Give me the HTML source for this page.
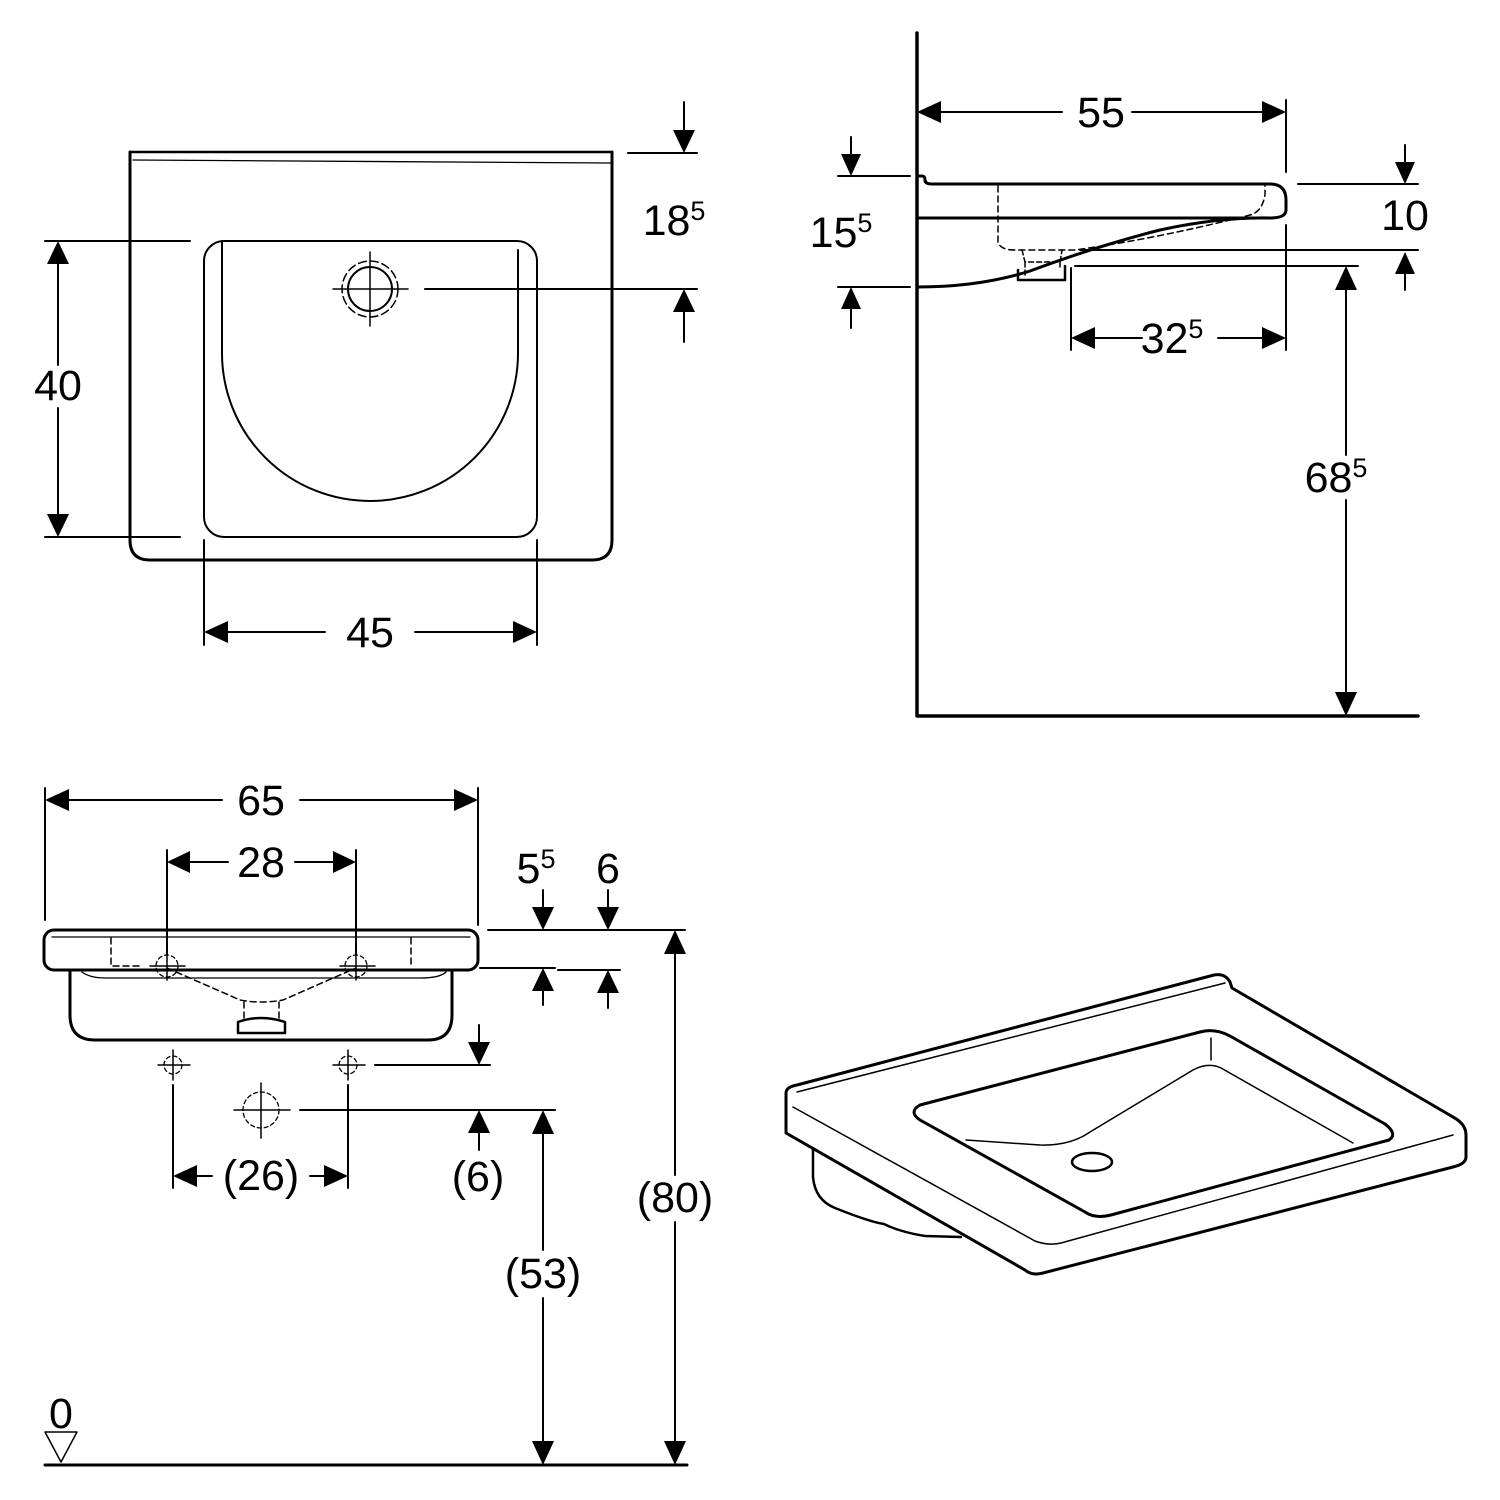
<!DOCTYPE html>
<html><head><meta charset="utf-8"><style>
html,body{margin:0;padding:0;background:#fff}
svg{display:block}
text{font-family:"Liberation Sans",sans-serif;font-size:43px;fill:#000}
.sup{font-size:27px}
</style></head><body>
<svg width="1500" height="1500" viewBox="0 0 1500 1500" xmlns="http://www.w3.org/2000/svg">
<g fill="none" stroke="#000" stroke-linejoin="round" stroke-linecap="round">
<path d="M130,152 V540 Q130,560 150,560 H592 Q612,560 612,540 V152" stroke-width="3"/>
<path d="M130,152 H612" stroke-width="2.5"/>
<path d="M133,160 L612,163" stroke-width="1.3"/>
<rect x="204" y="241" width="333" height="296" rx="20" stroke-width="2"/>
<path d="M222,241 V353 A148,148 0 0 0 518,353 V250" stroke-width="2"/>
<circle cx="370" cy="289" r="22" stroke-width="2"/>
<circle cx="370" cy="289" r="28" stroke-width="1.5" stroke-dasharray="8 4"/>
<path d="M333,289 H408 M370,252 V326" stroke-width="1.5"/>
<path d="M45,241 H190 M45,537 H180 M58,262 V365 M58,408 V516" stroke-width="2"/>
<path d="M204,540 V645 M537,540 V645 M225,632 H325 M415,632 H516" stroke-width="2"/>
<path d="M628,153 H697 M425,289 H697 M684,102 V132 M684,310 V342" stroke-width="2"/>

<path d="M917,33 V716 H1418" stroke-width="3.5"/>
<path d="M917,176 H922 Q925,176 925,180 Q925,184 932,184 H1270 Q1286,184 1286,200 V210 Q1286,218 1270,218 H917" stroke-width="3"/>
<path d="M917,287 Q980,287 1030,271 Q1100,245 1160,230 Q1220,217 1270,218" stroke-width="3"/>
<path d="M1018,270 V280 H1065 V266" stroke-width="2.5"/>
<path d="M998,186 V242 Q1000,250 1015,250 H1075 Q1160,238 1250,215 Q1262,212 1265,195 V184" stroke-width="1.5" stroke-dasharray="6 4"/>
<path d="M1022,250 L1025,262 H1060 L1062,250 M1025,262 V278 M1060,262 V270" stroke-width="1.5" stroke-dasharray="5 3"/>
<path d="M1286,100 V172 M940,112 H1062 M1132,112 H1264" stroke-width="2"/>
<path d="M838,176 H910 M838,287 H910 M851,137 V156 M851,307 V328" stroke-width="2"/>
<path d="M1298,184 H1418 M1080,250 H1418 M1405,145 V164 M1405,272 V290" stroke-width="2"/>
<path d="M1071,268 V350 M1286,225 V350 M1092,338 H1142 M1218,338 H1264" stroke-width="2"/>
<path d="M1075,266 H1358 M1346,288 V455 M1346,500 V694" stroke-width="2"/>

<rect x="44" y="930" width="434" height="40" rx="10" stroke-width="3"/>
<path d="M52,937 H470" stroke-width="1.3"/>
<path d="M70,970 V1015 Q70,1040 95,1040 H428 Q452,1040 452,1015 V970" stroke-width="3"/>
<path d="M82,972 Q90,978 105,978 H420 Q440,978 446,972" stroke-width="1.3"/>
<path d="M238,1033 V1022 Q261,1014 285,1022 V1033 Z" stroke-width="2.5"/>
<path d="M111,938 V966 H140 M411,938 V966 M167,968 L240,1000 Q261,1004 283,1000 L356,968 M244,1002 V1020 M279,1002 V1020" stroke-width="1.5" stroke-dasharray="6 4"/>
<path d="M150,966 H185 M167,952 V980 M340,966 H375 M356,952 V980 M158,1065 H190 M173,1050 V1080 M333,1065 H365 M348,1050 V1080 M234,1110 H290 M261,1083 V1138" stroke-width="1.5"/>
<circle cx="167" cy="966" r="11" stroke-width="1.3" stroke-dasharray="4 3"/>
<circle cx="356" cy="966" r="11" stroke-width="1.3" stroke-dasharray="4 3"/>
<circle cx="173" cy="1065" r="9" stroke-width="1.3" stroke-dasharray="4 3"/>
<circle cx="348" cy="1065" r="9" stroke-width="1.3" stroke-dasharray="4 3"/>
<circle cx="261" cy="1110" r="18" stroke-width="1.3" stroke-dasharray="4 3"/>
<path d="M45,788 V920 M478,788 V925 M68,800 H222 M300,800 H456" stroke-width="2"/>
<path d="M167,850 V955 M356,850 V955 M188,862 H228 M295,862 H335" stroke-width="2"/>
<path d="M488,930 H685 M480,968 H555 M558,970 H620 M543,890 V910 M543,988 V1005 M608,890 V910 M608,990 V1008" stroke-width="2"/>
<path d="M375,1065 H490 M300,1110 H555 M479,1025 V1045 M479,1130 V1150" stroke-width="2"/>
<path d="M173,1085 V1188 M348,1085 V1188 M195,1176 H212 M310,1176 H327" stroke-width="2"/>
<path d="M543,1132 V1250 M543,1298 V1443 M675,952 V1175 M675,1222 V1443" stroke-width="2"/>
<path d="M45,1465 H687" stroke-width="3"/>
<path d="M45,1432 H77 L61,1462 Z" stroke-width="1.5"/>

<path d="M786,1133 V1093 Q786,1087 797,1085 L1214,975 Q1225,973 1230,982 L1232,988 L1453,1117 Q1466,1124 1466,1135 V1157 Q1466,1164 1453,1167 L1043,1273 Q1032,1276 1025,1270 Z" stroke-width="3"/>
<path d="M797,1092 L1225,983" stroke-width="1.5"/>
<path d="M793,1107 L1035,1241 Q1048,1246 1061,1243 L1453,1135" stroke-width="1.5"/>
<path d="M920,1105 L1200,1032 Q1215,1028 1230,1036 L1385,1124 Q1398,1134 1389,1140 L1111,1215 Q1095,1219 1085,1212 L920,1120 Q908,1112 920,1105 Z" stroke-width="3"/>
<path d="M966,1140 L1040,1145 Q1070,1146 1090,1132 L1193,1070 Q1208,1062 1221,1068 L1353,1143 M1211,1038 V1060" stroke-width="1.5"/>
<ellipse cx="1092" cy="1162" rx="20" ry="9" stroke-width="2.5"/>
<path d="M813,1150 V1177 Q815,1200 835,1208 Q870,1222 884,1224 Q900,1232 925,1236 L961,1237" stroke-width="2.5"/>
</g>

<g fill="#000" stroke="none">
<polygon points="58,241 47,264 69,264"/><polygon points="58,537 47,514 69,514"/>
<polygon points="204,632 228,621 228,643"/><polygon points="537,632 513,621 513,643"/>
<polygon points="684,153 673,130 695,130"/><polygon points="684,289 673,312 695,312"/>
<polygon points="917,112 941,101 941,123"/><polygon points="1286,112 1262,101 1262,123"/>
<polygon points="851,176 841,154 861,154"/><polygon points="851,287 841,309 861,309"/>
<polygon points="1405,184 1395,162 1415,162"/><polygon points="1405,252 1395,274 1415,274"/>
<polygon points="1071,338 1095,327 1095,349"/><polygon points="1286,338 1262,327 1262,349"/>
<polygon points="1346,266 1335,290 1357,290"/><polygon points="1346,716 1335,692 1357,692"/>
<polygon points="45,800 69,789 69,811"/><polygon points="478,800 454,789 454,811"/>
<polygon points="167,862 190,851 190,873"/><polygon points="356,862 333,851 333,873"/>
<polygon points="543,930 532,907 554,907"/><polygon points="543,968 532,991 554,991"/>
<polygon points="608,930 597,907 619,907"/><polygon points="608,970 597,993 619,993"/>
<polygon points="479,1065 468,1042 490,1042"/><polygon points="479,1110 468,1133 490,1133"/>
<polygon points="173,1176 197,1165 197,1187"/><polygon points="348,1176 324,1165 324,1187"/>
<polygon points="543,1110 532,1134 554,1134"/><polygon points="543,1465 532,1441 554,1441"/>
<polygon points="675,930 664,954 686,954"/><polygon points="675,1465 664,1441 686,1441"/>
</g>

<g text-anchor="middle">
<text x="58" y="400">40</text>
<text x="370" y="647">45</text>
<text x="674" y="235">18<tspan class="sup" dy="-15">5</tspan></text>
<text x="1101" y="127">55</text>
<text x="841" y="247">15<tspan class="sup" dy="-15">5</tspan></text>
<text x="1405" y="230">10</text>
<text x="1172" y="353">32<tspan class="sup" dy="-15">5</tspan></text>
<text x="1336" y="492">68<tspan class="sup" dy="-15">5</tspan></text>
<text x="261" y="815">65</text>
<text x="261" y="877">28</text>
<text x="536" y="883">5<tspan class="sup" dy="-15">5</tspan></text>
<text x="608" y="883">6</text>
<text x="478" y="1191">(6)</text>
<text x="261" y="1190">(26)</text>
<text x="543" y="1288">(53)</text>
<text x="675" y="1212">(80)</text>
<text x="61" y="1428">0</text>
</g>
</svg>
</body></html>
